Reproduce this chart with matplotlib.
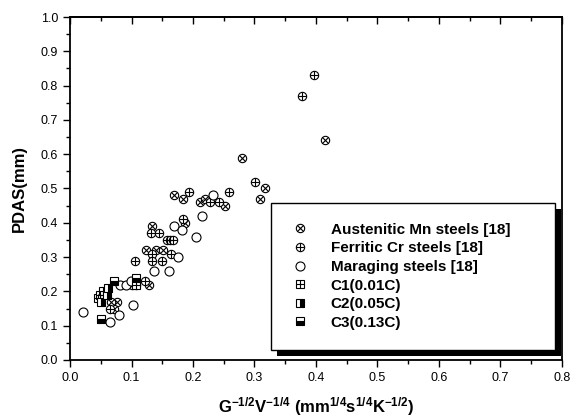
import numpy as np
import matplotlib
matplotlib.use("Agg")
import matplotlib.pyplot as plt
from matplotlib.patches import Rectangle

plt.rcParams['font.family'] = ['Liberation Sans', 'DejaVu Sans']
plt.rcParams['mathtext.fontset'] = 'custom'
plt.rcParams['mathtext.rm'] = 'Liberation Sans:bold'
plt.rcParams['mathtext.it'] = 'Liberation Sans:bold:italic'
plt.rcParams['mathtext.bf'] = 'Liberation Sans:bold'

# -----------------------------
# DATA
# -----------------------------
aus_x = [0.415, 0.279, 0.317, 0.309, 0.169, 0.183, 0.211, 0.220, 0.252, 0.187,
         0.133, 0.124, 0.140, 0.151, 0.100, 0.076, 0.071, 0.066, 0.128]
aus_y = [0.64, 0.59, 0.50, 0.47, 0.48, 0.47, 0.46, 0.47, 0.45, 0.40,
         0.39, 0.32, 0.32, 0.32, 0.22, 0.17, 0.15, 0.17, 0.22]

fer_x = [0.396, 0.378, 0.301, 0.259, 0.193, 0.228, 0.243, 0.184, 0.132, 0.145,
         0.157, 0.163, 0.168, 0.133, 0.164, 0.106, 0.134, 0.149, 0.122, 0.065, 0.107]
fer_y = [0.83, 0.77, 0.52, 0.49, 0.49, 0.46, 0.46, 0.41, 0.37, 0.37,
         0.35, 0.35, 0.35, 0.31, 0.31, 0.29, 0.29, 0.29, 0.23, 0.15, 0.22]

mar_x = [0.232, 0.214, 0.169, 0.182, 0.205, 0.176, 0.137, 0.161, 0.021, 0.065,
         0.079, 0.102, 0.081, 0.091, 0.099]
mar_y = [0.48, 0.42, 0.39, 0.38, 0.36, 0.30, 0.26, 0.26, 0.14, 0.11,
         0.13, 0.16, 0.22, 0.22, 0.23]

c1_x = [0.046, 0.049, 0.053, 0.107]
c1_y = [0.18, 0.19, 0.20, 0.22]
c2_x = [0.060, 0.062, 0.050]
c2_y = [0.19, 0.21, 0.17]
c3_x = [0.050, 0.072, 0.107]
c3_y = [0.12, 0.23, 0.24]

labels = ["Austenitic Mn steels [18]", "Ferritic Cr steels [18]",
          "Maraging steels [18]", "C1(0.01C)", "C2(0.05C)", "C3(0.13C)"]

# -----------------------------
# PLOT
# -----------------------------
fig = plt.figure(figsize=(5.72, 4.18), dpi=100)
ax = fig.add_axes([0.1224, 0.1388, 0.86, 0.8205])

mk = dict(linestyle='none', color='k', mew=0.8)

h_aus = (ax.plot(aus_x, aus_y, marker='o', ms=6, mfc='white', **mk)[0],
         ax.plot(aus_x, aus_y, marker='x', ms=4, **mk)[0])
h_fer = (ax.plot(fer_x, fer_y, marker='o', ms=6, mfc='white', **mk)[0],
         ax.plot(fer_x, fer_y, marker='+', ms=6, **mk)[0])
h_mar = ax.plot(mar_x, mar_y, marker='o', ms=6.5, mfc='white', **mk)[0]
h_c1 = (ax.plot(c1_x, c1_y, marker='s', ms=6, mfc='white', **mk)[0],
        ax.plot(c1_x, c1_y, marker='+', ms=6, **mk)[0])
h_c2 = ax.plot(c2_x, c2_y, marker='s', ms=6, fillstyle='right',
               mfc='k', mfcalt='white', **mk)[0]
h_c3 = ax.plot(c3_x, c3_y, marker='s', ms=6, fillstyle='bottom',
               mfc='k', mfcalt='white', **mk)[0]

ax.set_xlim(0.0, 0.8)
ax.set_ylim(0.0, 1.0)
ax.set_xticks(np.arange(0, 0.81, 0.1))
ax.set_yticks(np.arange(0, 1.01, 0.1))
ax.set_xticks(np.arange(0.05, 0.8, 0.1), minor=True)
ax.set_yticks(np.arange(0.05, 1.0, 0.1), minor=True)
ax.xaxis.set_major_formatter(plt.FormatStrFormatter('%.1f'))
ax.yaxis.set_major_formatter(plt.FormatStrFormatter('%.1f'))
ax.tick_params(which='both', direction='out', labelsize=9, width=1.0)
ax.tick_params(which='major', length=5)
ax.tick_params(which='minor', length=3)
for s in ax.spines.values():
    s.set_linewidth(1.3)

# inward ticks on the top edge, no labels
top = ax.secondary_xaxis('top')
top.set_xticks(np.arange(0, 0.81, 0.1))
top.set_xticks(np.arange(0.05, 0.8, 0.1), minor=True)
top.tick_params(which='both', direction='in', labeltop=False, width=1.0)
top.tick_params(which='major', length=5)
top.tick_params(which='minor', length=3)
top.spines['top'].set_linewidth(1.3)

ax.set_xlabel(r'$\mathbf{G^{-1/2}V^{-1/4}\ (mm^{1/4}s^{1/4}K^{-1/2})}$',
              fontsize=12, labelpad=8)
ax.set_ylabel('PDAS(mm)', fontsize=12, fontweight='bold', labelpad=10)

leg = ax.legend([h_aus, h_fer, h_mar, h_c1, h_c2, h_c3], labels,
                loc='upper left', bbox_to_anchor=(0.4085, 0.025, 0.578, 0.433),
                mode='expand', prop={'weight': 'bold', 'size': 11},
                frameon=True, fancybox=False, edgecolor='k', framealpha=1,
                handlelength=1.2, handletextpad=1.4, borderpad=1.3,
                labelspacing=0.3, borderaxespad=0)
leg.get_frame().set_linewidth(1.0)
leg.set_zorder(5)

# black drop shadow behind the legend box
fig.canvas.draw()
bb = leg.get_frame().get_window_extent()
ax.add_patch(Rectangle((bb.x0 + 6, bb.y0 - 6), bb.width, bb.height,
                       transform=None, facecolor='k', edgecolor='none',
                       zorder=4.9, clip_on=False))

fig.savefig("out.png", dpi=100)
